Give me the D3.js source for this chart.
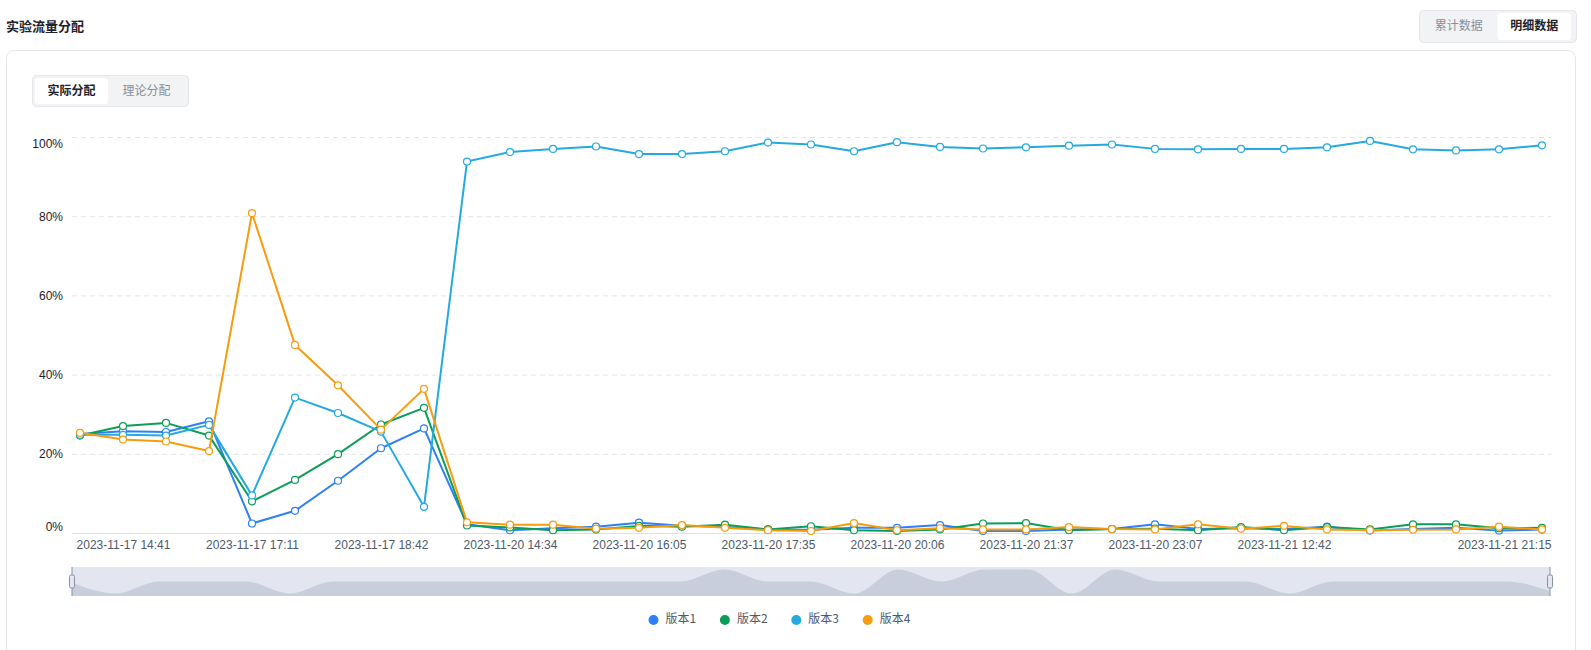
<!DOCTYPE html>
<html>
<head>
<meta charset="utf-8">
<script src="https://cdn.jsdelivr.net/npm/d3@7"></script>
<style>
    body { margin: 0; background: #ffffff; }
    svg { display: block; font-family: "PingFang SC", "Noto Sans CJK SC", "Noto Sans", sans-serif; }
</style>
</head>
<body>
<div id="chart"></div>
<script>

/****************************
  * Data
  ***************************/

// time buckets, only every third one is labelled on the axis
var categories = [
    '2023-11-17 13:51', '2023-11-17 14:41', '2023-11-17 15:31', '2023-11-17 16:21',
    '2023-11-17 17:11', '2023-11-17 17:41', '2023-11-17 18:12', '2023-11-17 18:42',
    '2023-11-20 13:33', '2023-11-20 14:04', '2023-11-20 14:34', '2023-11-20 15:04',
    '2023-11-20 15:35', '2023-11-20 16:05', '2023-11-20 16:35', '2023-11-20 17:05',
    '2023-11-20 17:35', '2023-11-20 18:26', '2023-11-20 19:16', '2023-11-20 20:06',
    '2023-11-20 20:36', '2023-11-20 21:07', '2023-11-20 21:37', '2023-11-20 22:07',
    '2023-11-20 22:37', '2023-11-20 23:07', '2023-11-21 10:40', '2023-11-21 11:41',
    '2023-11-21 12:42', '2023-11-21 14:08', '2023-11-21 15:33', '2023-11-21 16:59',
    '2023-11-21 18:24', '2023-11-21 19:50', '2023-11-21 21:15'
];
var labelIndex = [1, 4, 7, 10, 13, 16, 19, 22, 25, 28, 34];

var seriesNames = ['版本1', '版本2', '版本3', '版本4'];

// share of traffic, percent
var version1 = [25.0, 25.7, 25.5, 28.2, 2.4, 5.6, 13.2, 21.4, 26.4, 2.2,
    0.7, 1.2, 1.6, 2.6, 1.8, 1.5, 0.9, 0.8, 1.3, 1.3,
    2.0, 0.5, 0.5, 0.9, 1.0, 2.2, 1.0, 1.2, 1.0, 1.6,
    0.6, 1.0, 1.3, 0.6, 0.9];
var version2 = [24.6, 27.0, 27.8, 24.6, 8.0, 13.4, 19.9, 27.4, 31.6, 1.9,
    1.4, 0.7, 0.9, 1.8, 1.6, 2.1, 0.9, 1.7, 0.7, 0.5,
    0.9, 2.4, 2.5, 0.7, 1.0, 1.1, 0.7, 1.5, 0.7, 1.5,
    0.9, 2.2, 2.2, 1.2, 1.3];
var version3 = [24.8, 24.8, 24.6, 27.3, 9.5, 34.2, 30.3, 25.6, 6.6, 93.8,
    96.2, 97.0, 97.6, 95.7, 95.7, 96.4, 98.6, 98.1, 96.4, 98.7,
    97.5, 97.1, 97.4, 97.8, 98.1, 97.0, 96.9, 97.0, 97.0, 97.4,
    99.0, 96.9, 96.6, 96.9, 97.9];
var version4 = [25.3, 23.6, 23.1, 20.7, 80.8, 47.5, 37.3, 26.1, 36.4, 2.7,
    2.1, 2.1, 1.1, 1.3, 2.0, 1.3, 0.7, 0.5, 2.5, 0.7,
    1.2, 0.9, 0.9, 1.5, 1.0, 0.9, 2.2, 1.1, 1.8, 0.9,
    0.7, 0.8, 0.9, 1.6, 0.9];

var yTicks = [0, 20, 40, 60, 80, 100];

// data shadow drawn in the zoom slider (low / mid / high)
var shadowLevels = [0.9, 0, 1, 1, 1, 0, 1, 1, 1, 1,
    1, 1, 1, 1, 1, 2, 1, 1, 0, 2,
    1, 2, 2, 0, 2, 1, 1, 1, 0, 1,
    1, 1, 1, 1, 0.2];

/****************************
  * Styles
  ***************************/

var colors = ['#2e7ff8', '#0d9d58', '#25a9e0', '#f79c0e'];
var textDark = '#1d2129';
var textGray = '#86909c';
var borderColor = '#e5e6eb';

var width = 1591;
var height = 650;

var grid = { left: 72, right: 1551, top: 137, bottom: 533 };

/****************************
  * Canvas
  ***************************/

var svg = d3.select('#chart').append('svg')
    .attr('width', width)
    .attr('height', height);

// page title
svg.append('text')
    .attr('x', 6)
    .attr('y', 27)
    .attr('dominant-baseline', 'middle')
    .style('font-size', '13px')
    .style('font-weight', 600)
    .attr('fill', textDark)
    .text('实验流量分配');

// card that holds the chart
svg.append('rect')
    .attr('x', 6.5).attr('y', 50.5)
    .attr('width', 1569).attr('height', 660)
    .attr('rx', 8)
    .attr('fill', 'none')
    .attr('stroke', borderColor);

// segmented toggles
function drawToggle(x, y, w, h, labels, active) {
    var g = svg.append('g');
    g.append('rect')
        .attr('x', x + 0.5).attr('y', y + 0.5)
        .attr('width', w).attr('height', h)
        .attr('rx', 4)
        .attr('fill', '#f2f3f5')
        .attr('stroke', borderColor);
    var segW = (w - 6) / labels.length;
    g.append('rect')
        .attr('x', x + 3 + active * segW).attr('y', y + 3)
        .attr('width', segW - 2).attr('height', h - 5)
        .attr('rx', 3)
        .attr('fill', '#ffffff');
    labels.forEach(function(label, i) {
        g.append('text')
            .attr('x', x + 3 + segW * i + segW / 2 - 1)
            .attr('y', y + h / 2 + 1)
            .attr('text-anchor', 'middle')
            .attr('dominant-baseline', 'middle')
            .style('font-size', '12px')
            .style('font-weight', i === active ? 600 : 400)
            .attr('fill', i === active ? textDark : textGray)
            .text(label);
    });
}

drawToggle(1419, 10, 157, 32, ['累计数据', '明细数据'], 1);
drawToggle(32, 75, 156, 31, ['实际分配', '理论分配'], 0);

/****************************
  * Axes
  ***************************/

var x = d3.scalePoint().domain(categories).range([80, 1542]);
var y = d3.scaleLinear().domain([0, 100]).range([grid.bottom, grid.top]);

var yAxis = d3.axisLeft(y)
    .tickValues(yTicks)
    .tickSize(-(grid.right - grid.left))
    .tickPadding(9)
    .tickFormat(function(d) { return d + '%'; });

var gy = svg.append('g')
    .attr('transform', 'translate(' + grid.left + ', 0)')
    .call(yAxis);
gy.select('.domain').remove();
gy.selectAll('.tick line')
    .attr('stroke', '#e3e5e8')
    .attr('stroke-dasharray', '5,4');
gy.selectAll('.tick text')
    .attr('fill', textDark)
    .style('font-size', '12px');
// min and max labels are kept inside the plot area
gy.selectAll('.tick').filter(function(d) { return d === 0; })
    .call(function(t) {
        t.select('line').remove();
        t.select('text').attr('dy', '-0.2em');
    });
gy.selectAll('.tick').filter(function(d) { return d === 100; })
    .select('text').attr('dy', '0.88em');

// solid base line
svg.append('line')
    .attr('x1', grid.left).attr('x2', grid.right)
    .attr('y1', grid.bottom + 0.5).attr('y2', grid.bottom + 0.5)
    .attr('stroke', '#dcdfe6');

var xAxis = d3.axisBottom(x)
    .tickValues(labelIndex.map(function(i) { return categories[i]; }))
    .tickSize(0)
    .tickPadding(7);

var gx = svg.append('g')
    .attr('transform', 'translate(0, ' + grid.bottom + ')')
    .call(xAxis);
gx.select('.domain').remove();
gx.selectAll('.tick text')
    .attr('fill', '#4e5969')
    .style('font-size', '12px');
// last label is pushed inside the plot
gx.selectAll('.tick').filter(function(d) { return d === categories[categories.length - 1]; })
    .select('text')
    .attr('text-anchor', 'end')
    .attr('x', grid.right - x(categories[categories.length - 1]));

/****************************
  * Lines
  ***************************/

var allSeries = [version1, version2, version3, version4];

var line = d3.line()
    .x(function(d, i) { return x(categories[i]); })
    .y(function(d) { return y(d); });

allSeries.forEach(function(values, s) {
    var g = svg.append('g');
    g.append('path')
        .attr('d', line(values))
        .attr('fill', 'none')
        .attr('stroke', colors[s])
        .attr('stroke-width', 2)
        .attr('stroke-linejoin', 'round');
    g.selectAll('circle')
        .data(values)
        .enter().append('circle')
        .attr('cx', function(d, i) { return x(categories[i]); })
        .attr('cy', function(d) { return y(d); })
        .attr('r', 3.5)
        .attr('fill', '#ffffff')
        .attr('stroke', colors[s])
        .attr('stroke-width', 1.2);
});

/****************************
  * Zoom slider
  ***************************/

var slider = { x0: 72, x1: 1550, y0: 567, y1: 596 };

svg.append('rect')
    .attr('x', slider.x0).attr('y', slider.y0)
    .attr('width', slider.x1 - slider.x0)
    .attr('height', slider.y1 - slider.y0)
    .attr('fill', '#e3e6f1');

var xs = d3.scalePoint().domain(categories).range([slider.x0, slider.x1]);
var ys = d3.scaleLinear().domain([0, 2]).range([slider.y1 - 2.5, slider.y0 + 2.5]);

var shadowArea = d3.area()
    .x(function(d, i) { return xs(categories[i]); })
    .y0(slider.y1)
    .y1(function(d) { return ys(d); })
    .curve(d3.curveMonotoneX);

svg.append('path')
    .attr('d', shadowArea(shadowLevels))
    .attr('fill', '#c9cedd');

[slider.x0, slider.x1].forEach(function(hx) {
    svg.append('line')
        .attr('x1', hx).attr('x2', hx)
        .attr('y1', slider.y0).attr('y2', slider.y1)
        .attr('stroke', '#8a93a6')
        .attr('stroke-width', 1);
    svg.append('rect')
        .attr('x', hx - 2.5).attr('y', (slider.y0 + slider.y1) / 2 - 6.5)
        .attr('width', 5).attr('height', 13)
        .attr('rx', 1.5)
        .attr('fill', '#e3e6f1')
        .attr('stroke', '#8a93a6')
        .attr('stroke-width', 1);
});

/****************************
  * Legend
  ***************************/

var legend = svg.append('g')
    .attr('transform', 'translate(653.5, 620)');

seriesNames.forEach(function(name, i) {
    var item = legend.append('g')
        .attr('transform', 'translate(' + (i * 71.4) + ', 0)');
    item.append('circle')
        .attr('r', 5)
        .attr('fill', colors[i]);
    item.append('text')
        .attr('x', 12)
        .attr('dominant-baseline', 'middle')
        .style('font-size', '12px')
        .attr('fill', '#4e5969')
        .text(name);
});

</script>
</body>
</html>
